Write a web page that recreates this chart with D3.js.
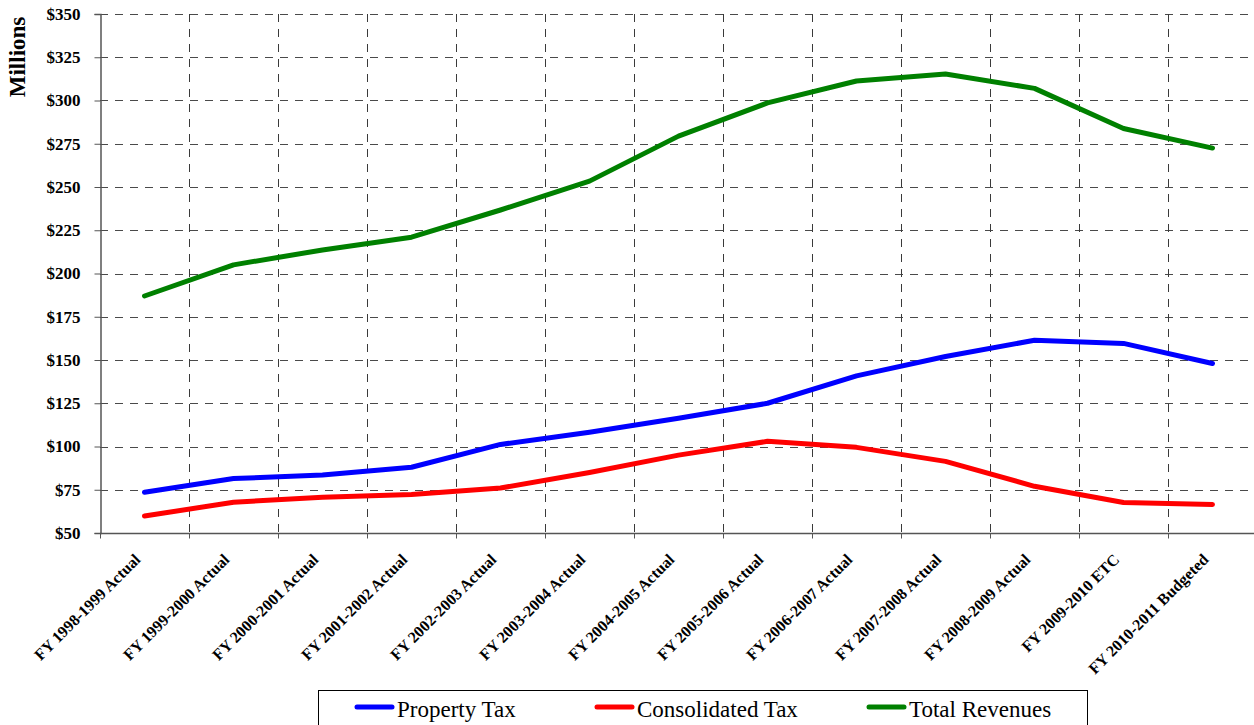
<!DOCTYPE html>
<html>
<head>
<meta charset="utf-8">
<script src="https://cdn.jsdelivr.net/npm/d3@7"></script>
<style>
  html, body { margin: 0; padding: 0; background: #fff; }
  svg { display: block; }
</style>
</head>
<body>
<svg id="chart" width="1254" height="725"></svg>
<script>
const categories = [
  "FY 1998-1999 Actual", "FY 1999-2000 Actual", "FY 2000-2001 Actual",
  "FY 2001-2002 Actual", "FY 2002-2003 Actual", "FY 2003-2004 Actual",
  "FY 2004-2005 Actual", "FY 2005-2006 Actual", "FY 2006-2007 Actual",
  "FY 2007-2008 Actual", "FY 2008-2009 Actual", "FY 2009-2010 ETC",
  "FY 2010-2011 Budgeted"
];
const propertyTax     = [73.5, 81.5, 83.5, 88, 101.2, 108.2, 116.3, 125, 140.8, 152, 161.4, 159.6, 148];
const consolidatedTax = [59.8, 67.8, 70.6, 72.3, 76, 85, 95, 103, 99.5, 91.4, 77, 67.6, 66.5];
const totalRevenues   = [187, 205, 213.6, 221, 236.7, 253.4, 279.4, 298.6, 311.3, 315.3, 307, 283.8, 272.5];
const seriesNames = ["Property Tax", "Consolidated Tax", "Total Revenues"];
const seriesColors = ["#0000FF", "#FF0000", "#008000"];
const yTicks = [50, 75, 100, 125, 150, 175, 200, 225, 250, 275, 300, 325, 350];

(function () {
const series = [propertyTax, consolidatedTax, totalRevenues];

const svg = d3.select("#chart");
const pL = 100, pR = 1257, pT = 14, pB = 533;

const x = d3.scaleBand().domain(categories).range([pL, pR]).padding(0);
const y = d3.scaleLinear().domain([50, 350]).range([pB, pT]);

const serif = "'Liberation Serif', 'Times New Roman', serif";

// horizontal gridlines
svg.append("g").selectAll("line").data(yTicks.filter(d => d > 50)).join("line")
  .attr("x1", pL).attr("x2", 1254)
  .attr("y1", d => Math.round(y(d)) + 0.5).attr("y2", d => Math.round(y(d)) + 0.5)
  .attr("stroke", "#4a4a4a").attr("stroke-width", 1).attr("stroke-dasharray", "8,7");

// vertical gridlines at category boundaries
const bounds = categories.slice(1).map(c => x(c));
svg.append("g").selectAll("line").data(bounds).join("line")
  .attr("x1", d => Math.round(d) + 0.5).attr("x2", d => Math.round(d) + 0.5)
  .attr("y1", pT).attr("y2", pB)
  .attr("stroke", "#3a3a3a").attr("stroke-width", 1).attr("stroke-dasharray", "8,7");

// y axis
const yAxis = d3.axisLeft(y).tickValues(yTicks).tickSize(6).tickFormat(d => "$" + d);
const gy = svg.append("g").attr("transform", `translate(${pL + 0.5},0)`).call(yAxis);
gy.select(".domain").attr("stroke", "#555").attr("stroke-width", 1.5);
gy.selectAll(".tick line").attr("stroke", "#555");
gy.selectAll(".tick text")
  .attr("x", -20)
  .attr("font-family", serif).attr("font-weight", "bold").attr("font-size", 17)
  .attr("fill", "#000");

// x axis
const gx = svg.append("g").attr("transform", `translate(0,${pB + 0.5})`);
gx.append("line").attr("x1", pL).attr("x2", 1254).attr("y1", 0).attr("y2", 0)
  .attr("stroke", "#555").attr("stroke-width", 1.5);
gx.selectAll("line.tk").data([pL, ...bounds]).join("line").attr("class", "tk")
  .attr("x1", d => Math.round(d) + 0.5).attr("x2", d => Math.round(d) + 0.5)
  .attr("y1", 0).attr("y2", 5).attr("stroke", "#555");
gx.selectAll("text.lbl").data(categories).join("text").attr("class", "lbl")
  .attr("transform", d => `translate(${x(d) + x.bandwidth() / 2 - 3},${27}) rotate(-45)`)
  .attr("text-anchor", "end")
  .attr("font-family", serif).attr("font-weight", "bold").attr("font-size", 16)
  .attr("fill", "#000")
  .text(d => d);

// y title
svg.append("text")
  .attr("transform", "translate(25,57) rotate(-90)")
  .attr("text-anchor", "middle")
  .attr("font-family", serif).attr("font-weight", "bold").attr("font-size", 23)
  .text("Millions");

// lines
const line = d3.line().x((d, i) => x(categories[i]) + x.bandwidth() / 2).y(d => y(d));
svg.append("g").selectAll("path").data(series).join("path")
  .attr("d", d => line(d))
  .attr("fill", "none")
  .attr("stroke", (d, i) => seriesColors[i])
  .attr("stroke-width", 5)
  .attr("stroke-linejoin", "round").attr("stroke-linecap", "round");

// legend
const lg = svg.append("g");
lg.append("rect").attr("x", 318.5).attr("y", 690.5).attr("width", 769).attr("height", 60)
  .attr("fill", "#fff").attr("stroke", "#000").attr("stroke-width", 1);
const legendX = [355, 595, 867];
const items = lg.selectAll("g.item").data(seriesNames).join("g").attr("class", "item")
  .attr("transform", (d, i) => `translate(${legendX[i]},0)`);
items.append("line").attr("x1", 2).attr("x2", 37).attr("y1", 707).attr("y2", 707)
  .attr("stroke", (d, i) => seriesColors[i]).attr("stroke-width", 5).attr("stroke-linecap", "round");
items.append("text").attr("x", 42).attr("y", 717)
  .attr("font-family", serif).attr("font-size", 23).attr("fill", "#000")
  .text(d => d);
})();
</script>
</body>
</html>
